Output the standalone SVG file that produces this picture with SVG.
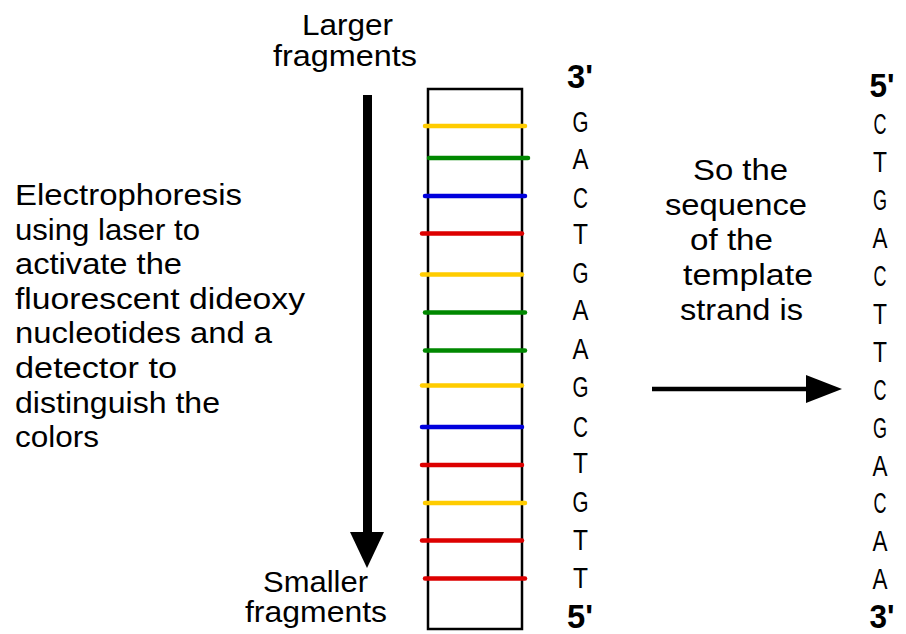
<svg xmlns="http://www.w3.org/2000/svg" width="906" height="634" viewBox="0 0 906 634">
<style>
text{font-family:"Liberation Sans",Arial,sans-serif;fill:#000;}
.t{font-size:30px;}
.b{font-size:30px;text-anchor:middle;}
.end{font-size:34px;text-anchor:middle;font-weight:bold;}
.band{stroke-width:4.5;stroke-linecap:round;}
.y{stroke:#FFCC00;}.g{stroke:#008800;}.bl{stroke:#0000DD;}.r{stroke:#DD0000;}
</style>
<rect width="906" height="634" fill="#fff"/>
<g id="label-larger">
<text class="t" x="302" y="35" textLength="91" lengthAdjust="spacingAndGlyphs">Larger</text>
<text class="t" x="273" y="66" textLength="144" lengthAdjust="spacingAndGlyphs">fragments</text>
</g>
<g id="label-smaller">
<text class="t" x="263" y="592" textLength="105" lengthAdjust="spacingAndGlyphs">Smaller</text>
<text class="t" x="245" y="622" textLength="142" lengthAdjust="spacingAndGlyphs">fragments</text>
</g>
<g id="label-electrophoresis">
<text class="t" x="15" y="205" textLength="227" lengthAdjust="spacingAndGlyphs">Electrophoresis</text>
<text class="t" x="15" y="239.6" textLength="185" lengthAdjust="spacingAndGlyphs">using laser to</text>
<text class="t" x="15" y="274.2" textLength="167" lengthAdjust="spacingAndGlyphs">activate the</text>
<text class="t" x="15" y="308.8" textLength="290" lengthAdjust="spacingAndGlyphs">fluorescent dideoxy</text>
<text class="t" x="15" y="343.4" textLength="257" lengthAdjust="spacingAndGlyphs">nucleotides and a</text>
<text class="t" x="15" y="378" textLength="162" lengthAdjust="spacingAndGlyphs">detector to</text>
<text class="t" x="15" y="412.6" textLength="205" lengthAdjust="spacingAndGlyphs">distinguish the</text>
<text class="t" x="15" y="447.2" textLength="84" lengthAdjust="spacingAndGlyphs">colors</text>
</g>
<g id="label-sequence">
<text class="t" x="693" y="180" textLength="95" lengthAdjust="spacingAndGlyphs">So the</text>
<text class="t" x="665" y="215" textLength="142" lengthAdjust="spacingAndGlyphs">sequence</text>
<text class="t" x="690" y="250" textLength="83" lengthAdjust="spacingAndGlyphs">of the</text>
<text class="t" x="683" y="285" textLength="130" lengthAdjust="spacingAndGlyphs">template</text>
<text class="t" x="680" y="320" textLength="123" lengthAdjust="spacingAndGlyphs">strand is</text>
</g>
<g id="gel">
<rect x="428" y="89" width="94" height="540" fill="none" stroke="#000" stroke-width="2.5"/>
<line class="band y" x1="425" y1="126" x2="525" y2="126"/>
<line class="band g" x1="429" y1="158" x2="528" y2="158"/>
<line class="band bl" x1="425" y1="196" x2="525" y2="196"/>
<line class="band r" x1="422" y1="233.5" x2="522" y2="233.5"/>
<line class="band y" x1="422" y1="274.5" x2="522" y2="274.5"/>
<line class="band g" x1="425" y1="312.5" x2="525" y2="312.5"/>
<line class="band g" x1="425" y1="350.5" x2="525" y2="350.5"/>
<line class="band y" x1="422" y1="385.5" x2="522" y2="385.5"/>
<line class="band bl" x1="422" y1="427" x2="522" y2="427"/>
<line class="band r" x1="422" y1="465" x2="522" y2="465"/>
<line class="band y" x1="425" y1="503" x2="525" y2="503"/>
<line class="band r" x1="422" y1="540.5" x2="522" y2="540.5"/>
<line class="band r" x1="425" y1="578.5" x2="525" y2="578.5"/>
</g>
<g id="strand-read">
<text class="end" x="580" y="88" textLength="26" lengthAdjust="spacingAndGlyphs">3'</text>
<text class="b" x="580.5" y="132" textLength="16" lengthAdjust="spacingAndGlyphs">G</text>
<text class="b" x="580.5" y="169" textLength="16" lengthAdjust="spacingAndGlyphs">A</text>
<text class="b" x="580.5" y="208" textLength="15" lengthAdjust="spacingAndGlyphs">C</text>
<text class="b" x="580.5" y="244" textLength="15" lengthAdjust="spacingAndGlyphs">T</text>
<text class="b" x="580.5" y="283" textLength="16" lengthAdjust="spacingAndGlyphs">G</text>
<text class="b" x="580.5" y="320" textLength="16" lengthAdjust="spacingAndGlyphs">A</text>
<text class="b" x="580.5" y="359" textLength="16" lengthAdjust="spacingAndGlyphs">A</text>
<text class="b" x="580.5" y="397" textLength="16" lengthAdjust="spacingAndGlyphs">G</text>
<text class="b" x="580.5" y="437" textLength="15" lengthAdjust="spacingAndGlyphs">C</text>
<text class="b" x="580.5" y="473" textLength="15" lengthAdjust="spacingAndGlyphs">T</text>
<text class="b" x="580.5" y="512" textLength="16" lengthAdjust="spacingAndGlyphs">G</text>
<text class="b" x="580.5" y="550" textLength="15" lengthAdjust="spacingAndGlyphs">T</text>
<text class="b" x="580.5" y="588" textLength="15" lengthAdjust="spacingAndGlyphs">T</text>
<text class="end" x="580" y="628" textLength="26" lengthAdjust="spacingAndGlyphs">5'</text>
</g>
<g id="strand-template">
<text class="end" x="882" y="97" textLength="25" lengthAdjust="spacingAndGlyphs">5'</text>
<text class="b" x="880" y="134" textLength="13" lengthAdjust="spacingAndGlyphs">C</text>
<text class="b" x="880" y="172" textLength="14" lengthAdjust="spacingAndGlyphs">T</text>
<text class="b" x="880" y="210" textLength="14" lengthAdjust="spacingAndGlyphs">G</text>
<text class="b" x="880" y="248" textLength="15" lengthAdjust="spacingAndGlyphs">A</text>
<text class="b" x="880" y="286" textLength="13" lengthAdjust="spacingAndGlyphs">C</text>
<text class="b" x="880" y="324" textLength="14" lengthAdjust="spacingAndGlyphs">T</text>
<text class="b" x="880" y="362" textLength="14" lengthAdjust="spacingAndGlyphs">T</text>
<text class="b" x="880" y="400" textLength="13" lengthAdjust="spacingAndGlyphs">C</text>
<text class="b" x="880" y="438" textLength="14" lengthAdjust="spacingAndGlyphs">G</text>
<text class="b" x="880" y="476" textLength="15" lengthAdjust="spacingAndGlyphs">A</text>
<text class="b" x="880" y="513" textLength="13" lengthAdjust="spacingAndGlyphs">C</text>
<text class="b" x="880" y="551" textLength="15" lengthAdjust="spacingAndGlyphs">A</text>
<text class="b" x="880" y="589" textLength="15" lengthAdjust="spacingAndGlyphs">A</text>
<text class="end" x="882" y="628" textLength="25" lengthAdjust="spacingAndGlyphs">3'</text>
</g>
<g id="connectors">
<rect x="363" y="95" width="9" height="438" fill="#000"/>
<polygon points="350,532 384,532 367,568" fill="#000"/>
<line x1="652" y1="389" x2="810" y2="389" stroke="#000" stroke-width="4.5"/>
<polygon points="806,375 842,389 806,403" fill="#000"/>
</g>
</svg>
